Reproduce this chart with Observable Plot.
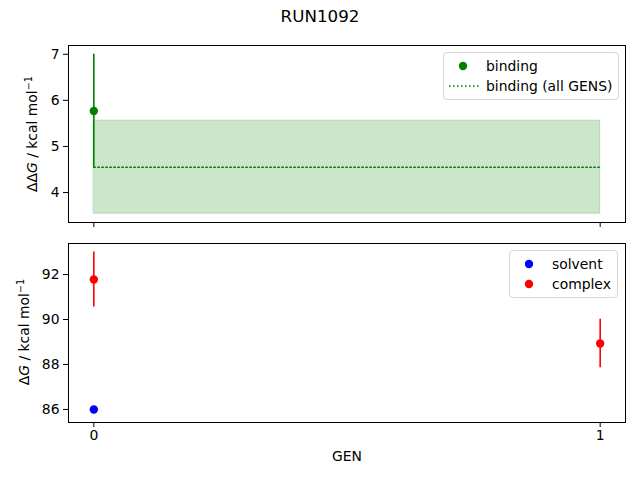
<!DOCTYPE html>
<html>
<head>
<meta charset="utf-8">
<script src="https://cdn.jsdelivr.net/npm/d3@7"></script>
<script src="https://cdn.jsdelivr.net/npm/@observablehq/plot@0.6"></script>
<style>
  html, body { margin: 0; padding: 0; background: white; }
  #root { position: relative; width: 640px; height: 480px; font-family: "DejaVu Sans", sans-serif; color: black; overflow: hidden; }
  #title { position: absolute; top: 6px; left: 0; width: 640px; text-align: center; font-size: 16.7px; }
  #top { position: absolute; top: 30px; left: 0; }
  #bottom { position: absolute; top: 230px; left: 0; }
  .legend { position: absolute; background: rgba(255,255,255,0.8); border: 1px solid #d6d6d6; border-radius: 4px; font-size: 13.9px; padding: 3px 6px 3px 2px; }
  .legend .row { display: flex; align-items: center; height: 20px; }
  .legend svg { width: 34px; height: 20px; margin-right: 6px; }
</style>
</head>
<body>
<div id="root">
  <div id="title">RUN1092</div>
  <div id="top"></div>
  <div id="bottom"></div>
  <div class="legend" id="legTop" style="left:443px; top:52px;">
    <div class="row"><svg><circle cx="17" cy="10" r="4.2" fill="green"/></svg>binding</div>
    <div class="row"><svg><line x1="3" x2="33" y1="10" y2="10" stroke="green" stroke-width="1.5" stroke-dasharray="1.5,2.5"/></svg>binding (all GENS)</div>
  </div>
  <div class="legend" id="legBottom" style="left:509px; top:250px;">
    <div class="row"><svg><circle cx="17" cy="10" r="4.2" fill="blue"/></svg>solvent</div>
    <div class="row"><svg><circle cx="17" cy="10" r="4.2" fill="red"/></svg>complex</div>
  </div>
</div>
<script>
// ---- data ----
const gens = [0, 1];
const xTicks = [0, 1];

const bindingGen = [0];
const bindingValue = [5.77];
const bindingErr = [1.23];

const bindingAllValue = 4.55;
const bindingAllErr = 1.01;

const solventGen = [0];
const solventValue = [86.0];
const solventErr = [0.05];

const complexGen = [0, 1];
const complexValue = [91.78, 88.93];
const complexErr = [1.22, 1.08];

const topTicks = [4, 5, 6, 7];
const bottomTicks = [86, 88, 90, 92];

// ---- tables ----
const binding = bindingGen.map((g, i) => ({gen: g, v: bindingValue[i], lo: bindingValue[i] - bindingErr[i], hi: bindingValue[i] + bindingErr[i]}));
const bindingAll = gens.map(g => ({gen: g, v: bindingAllValue, lo: bindingAllValue - bindingAllErr, hi: bindingAllValue + bindingAllErr}));
const solvent = solventGen.map((g, i) => ({gen: g, v: solventValue[i], lo: solventValue[i] - solventErr[i], hi: solventValue[i] + solventErr[i]}));
const complex = complexGen.map((g, i) => ({gen: g, v: complexValue[i], lo: complexValue[i] - complexErr[i], hi: complexValue[i] + complexErr[i]}));

const style = {fontFamily: "DejaVu Sans, sans-serif", fontSize: "13.9px", color: "black", background: "white", overflow: "visible"};
const fmt = d3.format("d");

const topPlot = Plot.plot({
  width: 640, height: 200,
  marginTop: 15, marginBottom: 8, marginLeft: 68, marginRight: 15,
  style,
  x: {domain: [-0.05, 1.05]},
  y: {domain: [3.35, 7.19]},
  marks: [
    Plot.areaY(bindingAll, {x: "gen", y1: "lo", y2: "hi", fill: "green", fillOpacity: 0.2, stroke: "green", strokeOpacity: 0.2}),
    Plot.lineY(bindingAll, {x: "gen", y: "v", stroke: "green", strokeWidth: 1.5, strokeDasharray: "1.5,2.5"}),
    Plot.ruleX(binding, {x: "gen", y1: "lo", y2: "hi", stroke: "green", strokeWidth: 1.6}),
    Plot.dot(binding, {x: "gen", y: "v", r: 4.2, fill: "green"}),
    Plot.axisX({ticks: xTicks, tickFormat: () => "", tickSize: 5, label: null}),
    Plot.axisY({ticks: topTicks, tickFormat: fmt, tickSize: 5, tickPadding: 4, label: null}),
    Plot.frame({stroke: "black", strokeWidth: 1})
  ]
});
document.getElementById("top").appendChild(topPlot);

const bottomPlot = Plot.plot({
  width: 640, height: 250,
  marginTop: 13, marginBottom: 58, marginLeft: 68, marginRight: 15,
  style,
  x: {domain: [-0.05, 1.05]},
  y: {domain: [85.42, 93.38]},
  marks: [
    Plot.ruleX(solvent, {x: "gen", y1: "lo", y2: "hi", stroke: "blue", strokeWidth: 1.6}),
    Plot.dot(solvent, {x: "gen", y: "v", r: 4.2, fill: "blue"}),
    Plot.ruleX(complex, {x: "gen", y1: "lo", y2: "hi", stroke: "red", strokeWidth: 1.6}),
    Plot.dot(complex, {x: "gen", y: "v", r: 4.2, fill: "red"}),
    Plot.axisX({ticks: xTicks, tickFormat: fmt, tickSize: 5, tickPadding: 3, label: "GEN", labelAnchor: "center", labelArrow: "none", labelOffset: 38}),
    Plot.axisY({ticks: bottomTicks, tickFormat: fmt, tickSize: 5, tickPadding: 4, label: null}),
    Plot.frame({stroke: "black", strokeWidth: 1})
  ]
});
document.getElementById("bottom").appendChild(bottomPlot);

// rotated y-axis titles with italic G and superscript
function yTitle(svg, x, y, prefix) {
  const t = d3.select(svg).append("text")
    .attr("transform", `translate(${x},${y}) rotate(-90)`)
    .attr("text-anchor", "middle")
    .attr("font-family", "DejaVu Sans, sans-serif")
    .attr("font-size", "13.9px")
    .attr("fill", "black");
  t.append("tspan").text(prefix);
  t.append("tspan").attr("font-style", "italic").text("G");
  t.append("tspan").text(" / kcal mol");
  t.append("tspan").attr("font-size", "9.7px").attr("dy", "-5").text("−1");
}
yTitle(topPlot, 37, 104, "ΔΔ");
yTitle(bottomPlot, 29, 102, "Δ");
</script>
</body>
</html>
